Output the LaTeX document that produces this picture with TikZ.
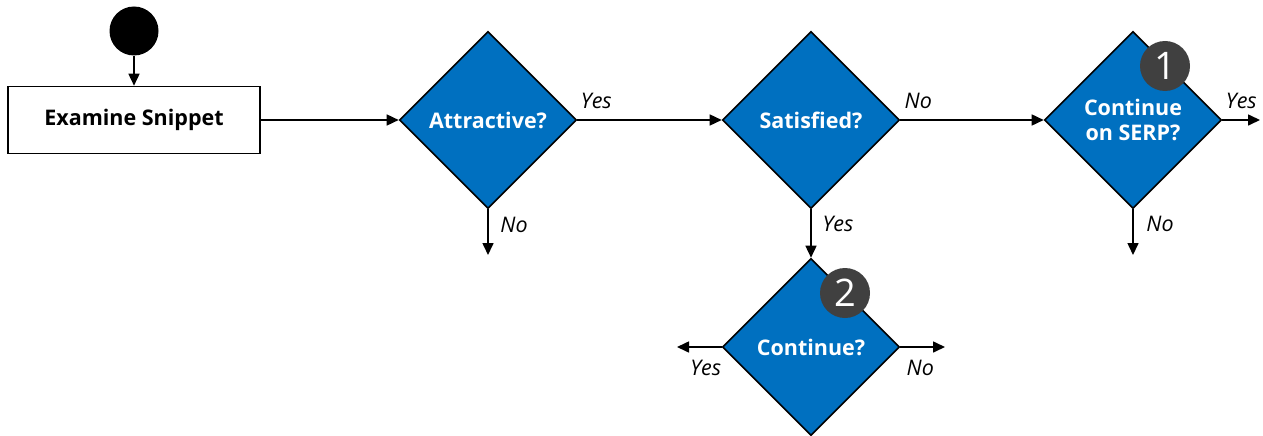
\documentclass[tikz,border=0pt]{standalone}
\usepackage{fontspec}
\setmainfont{Open Sans}
\usetikzlibrary{arrows.meta, shapes.geometric}
\definecolor{decblue}{HTML}{0070C0}
\definecolor{badgegray}{HTML}{404040}

\begin{document}
\begin{tikzpicture}[
x={(1pt,0pt)}, y={(0pt,-1pt)},
% picture settings
ev/.style={-{Triangle[length=12pt, width=11pt]}, line width=1.6pt},
decision/.style={diamond, draw=black, line width=1.6pt, fill=decblue, text=white,
  font=\fontsize{21.5}{25}\selectfont\bfseries, minimum width=177pt, minimum height=177pt,
  inner sep=0pt, align=center},
lbl/.style={font=\fontsize{21.5}{25}\selectfont\itshape, anchor=center, pos=0},
badge/.style={circle, fill=badgegray, text=white, minimum size=50pt, inner sep=0pt,
  font=\fontsize{38}{38}\selectfont},
]
\useasboundingbox (0,0) rectangle (1263,436);

% start and first step
\node[circle, fill=black, minimum size=49pt, inner sep=0pt] (start) at (134,31) {};
\node[draw, line width=1.6pt, minimum width=252pt, minimum height=67pt,
  font=\fontsize{21.5}{25}\selectfont\bfseries] (examine) at (134,120) {Examine Snippet};

% decisions
\node[decision] (attractive) at (488,120) {Attractive?};
\node[decision] (satisfied) at (811,120) {Satisfied?};
\node[decision] (serp) at (1133,120) {Continue\\on SERP?};
\node[decision] (cont) at (811,347) {Continue?};

\node[badge] (one) at (1165,66) {1};
\node[badge] (two) at (845,293) {2};

% loose ends
\coordinate (attno) at (488,255);
\coordinate (serpyes) at (1260,120);
\coordinate (serpno) at (1133,255);
\coordinate (contyes) at (677,347);
\coordinate (contno) at (945,347);

\draw[ev] (start) -- (examine);
\draw[ev] (examine) -- (attractive);
\draw[ev] (attractive) -- (satisfied) node[lbl, xshift=19pt, yshift=19pt]{Yes};
\draw[ev] (attractive) -- (attno) node[lbl, xshift=26pt, yshift=-16pt]{No};
\draw[ev] (satisfied) -- (serp) node[lbl, xshift=18pt, yshift=19pt]{No};
\draw[ev] (satisfied) -- (cont) node[lbl, xshift=27pt, yshift=-15pt]{Yes};
\draw[ev] (serp) -- (serpyes) node[lbl, xshift=19pt, yshift=19pt]{Yes};
\draw[ev] (serp) -- (serpno) node[lbl, xshift=27pt, yshift=-15pt]{No};
\draw[ev] (cont) -- (contyes) node[lbl, xshift=-16pt, yshift=-21pt]{Yes};
\draw[ev] (cont) -- (contno) node[lbl, xshift=20pt, yshift=-21pt]{No};

\end{tikzpicture}
\end{document}
